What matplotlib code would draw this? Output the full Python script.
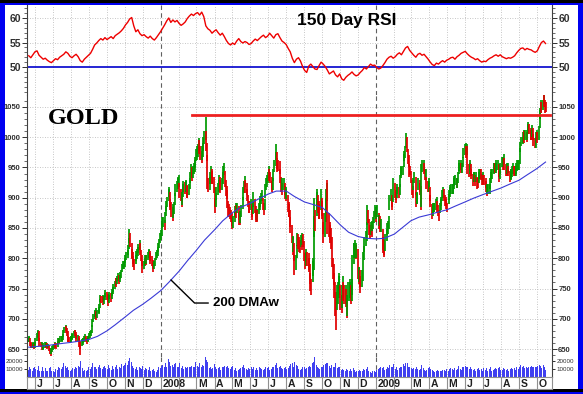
import numpy as np
import pandas as pd
import matplotlib
matplotlib.use("Agg")
import matplotlib.pyplot as plt
import matplotlib.dates as mdates
from matplotlib.patches import Rectangle
from matplotlib.ticker import MultipleLocator, FixedLocator

plt.rcParams['font.family'] = ['Liberation Sans', 'DejaVu Sans']

# ---------------- data ----------------
start_day = '2007-05-21'   # first bar, one row below = one week Mon..Fri

# daily lows / highs (USD/oz) - 2007 part
low_07 = [
    661, 662, 655, 652, 651,  651, 652, 650, 652, 656,  664, 668, 670, 663, 655,
    653, 654, 648, 649, 650,  652, 651, 653, 650, 651,  647, 641, 639, 642, 645,
    648, 650, 653, 651, 650,  654, 659, 658, 660, 662,  662, 663, 665, 670, 676,
    680, 677, 672, 662, 661,  660, 661, 662, 665, 667,  669, 672, 671, 667, 662,
    663, 662, 654, 650, 640,  655, 657, 660, 661, 664,  661, 659, 662, 663, 667,
    669, 672, 677, 686, 694,  700, 703, 705, 698, 702,  708, 710, 718, 727, 726,
    728, 723, 725, 731, 736,  731, 728, 721, 726, 732,  728, 733, 738, 741, 745,
    750, 755, 752, 757, 762,  757, 760, 765, 768, 777,  782, 783, 786, 792, 797,
    800, 806, 815, 825, 818,  800, 799, 791, 786, 781,  790, 796, 799, 803, 809,
    813, 806, 796, 788, 776,  782, 787, 791, 789, 791,  797, 800, 802, 796, 791,
    787, 782, 777, 782, 787,  797, 800, 804, 811, 817]
high_07 = [
    670, 671, 668, 662, 660,  660, 662, 659, 661, 669,  676, 680, 682, 679, 668,
    662, 662, 658, 657, 660,  661, 660, 662, 660, 659,  656, 651, 648, 651, 655,
    656, 659, 661, 660, 660,  664, 668, 667, 669, 671,  672, 672, 675, 682, 686,
    690, 688, 684, 679, 672,  670, 671, 671, 675, 677,  679, 682, 681, 678, 674,
    673, 672, 668, 664, 662,  666, 668, 669, 671, 674,  671, 669, 672, 672, 677,
    679, 682, 689, 699, 708,  712, 715, 718, 713, 715,  719, 725, 732, 740, 738,
    740, 737, 737, 742, 748,  745, 741, 736, 739, 745,  742, 745, 750, 753, 758,
    763, 768, 767, 770, 776,  772, 773, 777, 780, 790,  795, 796, 801, 806, 811,
    814, 822, 833, 848, 842,  825, 816, 810, 803, 798,  806, 812, 815, 818, 824,
    830, 825, 814, 806, 795,  796, 801, 806, 805, 806,  811, 814, 816, 812, 808,
    803, 797, 792, 796, 801,  810, 814, 818, 826, 832]

# 2008 part (starts Mon 31 Dec 2007)
low_08 = [
    826, 830, 836, 850, 851,  846, 858, 870, 878, 884,  895, 901, 884, 879, 868,
    862, 866, 873, 888, 903,  910, 914, 917, 918, 900,  895, 884, 888, 902, 909,
    907, 909, 910, 899, 899,  904, 914, 924, 933, 927,  933, 939, 943, 949, 960,
    963, 968, 978, 973, 962,  958, 962, 968, 978, 988,  995, 978, 960, 915, 910,
    912, 922, 932, 922, 923,  908, 885, 874, 885, 897,  904, 910, 918, 913, 908,
    913, 922, 932, 938, 918,  903, 898, 883, 868, 868,  865, 860, 853, 848, 850,
    860, 869, 874, 866, 874,  864, 855, 855, 859, 869,  882, 897, 908, 918, 908,
    904, 894, 884, 874, 874,  879, 869, 864, 873, 885,  874, 864, 860, 862, 860,
    873, 879, 884, 889, 894,  879, 872, 879, 900, 913,  918, 924, 933, 928, 925,
    913, 909, 913, 928, 943,  952, 963, 948, 943, 944,  939, 924, 909, 904, 912,
    913, 904, 898, 894, 898,  877, 868, 868, 852, 842,  826, 806, 811, 796, 772,
    780, 800, 820, 815, 810,  808, 818, 813, 822, 818,  795, 783, 787, 793, 788,
    780, 777, 757, 746, 740,  760, 770, 780, 835, 845,  870, 880, 875, 865, 865,
    880, 870, 865, 840, 825,  835, 860, 875, 895, 840,  835, 830, 825, 815, 785,
    765, 755, 735, 705, 681,  715, 725, 735, 740, 715,  710, 718, 735, 730, 725,
    725, 720, 701, 705, 730,  730, 735, 725, 730, 740,  790, 800, 800, 798, 800,
    765, 758, 760, 752, 742,  752, 762, 785, 797, 810,  820, 828, 855, 858, 838,
    833, 838, 835, 845, 848]
high_08 = [
    842, 846, 858, 868, 869,  864, 877, 887, 895, 902,  914, 918, 910, 898, 893,
    885, 889, 893, 908, 922,  927, 932, 935, 937, 925,  915, 907, 910, 923, 928,
    926, 928, 929, 921, 919,  923, 933, 943, 955, 950,  952, 957, 963, 968, 980,
    985, 988, 998, 995, 986,  978, 985, 990, 1000, 1010,  1033, 1010, 990, 970, 932,
    935, 943, 952, 947, 944,  935, 918, 900, 908, 918,  924, 930, 938, 935, 930,
    932, 942, 952, 958, 945,  930, 920, 912, 895, 890,  885, 880, 875, 868, 870,
    878, 887, 892, 888, 892,  886, 876, 874, 878, 888,  902, 918, 928, 936, 930,
    924, 915, 905, 895, 894,  898, 890, 884, 893, 910,  898, 886, 879, 881, 879,
    892, 898, 903, 908, 912,  900, 892, 898, 922, 932,  938, 942, 952, 948, 943,
    935, 928, 933, 948, 962,  975, 988, 975, 965, 963,  960, 948, 934, 925, 933,
    933, 925, 920, 914, 918,  905, 893, 890, 880, 868,  855, 835, 836, 825, 805,
    805, 822, 842, 840, 835,  830, 838, 835, 842, 840,  828, 808, 810, 815, 810,
    808, 800, 790, 775, 765,  795, 800, 870, 900, 880,  915, 910, 905, 895, 890,
    915, 900, 895, 875, 860,  875, 900, 915, 925, 930,  875, 860, 855, 850, 835,
    800, 790, 775, 760, 745,  755, 760, 770, 775, 755,  740, 755, 770, 760, 755,
    755, 750, 735, 740, 760,  760, 765, 755, 765, 805,  825, 825, 830, 822, 825,
    815, 785, 785, 780, 770,  780, 785, 810, 820, 835,  845, 860, 888, 880, 865,
    855, 860, 855, 862, 868]

# 2009 part (starts Mon 29 Dec 2008)
low_09 = [
    858, 868, 860, 865, 868,  848, 853, 848, 843, 843,  813, 808, 805, 802, 812,
    828, 838, 840, 848, 880,  895, 884, 880, 893, 912,  900, 896, 892, 900, 906,
    900, 905, 918, 933, 936,  937, 950, 960, 965, 982,  975, 955, 950, 935, 937,
    925, 905, 900, 912, 925,  905, 885, 890, 890, 913,  910, 905, 880, 885, 942,
    945, 940, 930, 930, 915,  910, 910, 915, 895, 885,  865, 870, 875, 876, 876,
    880, 885, 876, 870, 862,  875, 880, 886, 895, 900,  895, 886, 886, 881, 876,
    890, 896, 902, 906, 906,  906, 906, 915, 920, 921,  916, 916, 925, 940, 945,
    946, 941, 941, 950, 965,  970, 972, 965, 970, 940,  935, 940, 945, 936, 931,
    920, 926, 926, 920, 926,  915, 916, 925, 931, 931,  930, 921, 926, 921, 921,
    916, 910, 903, 906, 906,  906, 915, 925, 931, 931,  940, 941, 941, 941, 945,
    946, 935, 926, 931, 940,  950, 946, 950, 955, 946,  936, 936, 940, 941, 936,
    926, 930, 931, 935, 940,  936, 936, 936, 940, 945,  946, 946, 955, 975, 985,
    988, 990, 995, 990, 995,  992, 995, 1005, 1010, 1005,  995, 995, 1000, 995, 985,
    982, 982, 990, 995, 990,  995, 1015, 1030, 1040, 1040,  1045, 1055, 1050, 1040, 1042]
high_09 = [
    878, 888, 880, 884, 888,  875, 872, 870, 865, 865,  848, 835, 830, 825, 840,
    848, 858, 862, 870, 905,  915, 905, 900, 912, 932,  925, 912, 910, 918, 922,
    918, 922, 938, 950, 952,  952, 973, 978, 985, 1007,  1000, 980, 970, 955, 952,
    945, 930, 920, 932, 942,  935, 910, 908, 910, 932,  930, 925, 920, 955, 962,
    962, 958, 948, 948, 935,  928, 928, 932, 918, 905,  890, 888, 892, 892, 892,
    898, 902, 895, 888, 880,  892, 898, 902, 912, 918,  915, 905, 902, 898, 892,
    907, 912, 917, 921, 922,  922, 922, 932, 936, 937,  932, 932, 942, 957, 962,
    962, 958, 958, 967, 982,  988, 990, 985, 988, 985,  955, 957, 962, 955, 948,
    940, 942, 942, 938, 942,  935, 932, 942, 947, 947,  947, 940, 942, 938, 937,
    932, 928, 920, 922, 922,  922, 932, 942, 947, 947,  957, 958, 957, 958, 962,
    962, 955, 945, 947, 957,  967, 962, 967, 972, 965,  955, 952, 957, 957, 953,
    944, 947, 947, 952, 957,  953, 952, 952, 957, 962,  962, 962, 982, 992, 1000,
    1000, 1008, 1012, 1010, 1012,  1008, 1012, 1022, 1025, 1022,  1015, 1012, 1020, 1015, 1005,
    998, 1000, 1008, 1012, 1008,  1018, 1045, 1048, 1062, 1058,  1062, 1072, 1070, 1062, 1058]

# daily volume (thousands of contracts)
vol_07 = [
    9, 12, 8, 10, 7,  8, 11, 9, 13, 10,  12, 9, 14, 11, 8,  10, 7, 9, 12, 8,
    9, 11, 8, 10, 7,  11, 9, 13, 10, 8,  7, 9, 6, 10, 8,  9, 12, 10, 11, 14,
    10, 13, 12, 17, 21,  14, 11, 16, 12, 9,  10, 8, 12, 9, 11,  12, 10, 9, 13, 11,
    10, 14, 12, 18, 20,  9, 11, 8, 10, 9,  8, 10, 9, 11, 12,  10, 13, 12, 16, 18,
    13, 11, 12, 10, 14,  12, 15, 13, 11, 16,  10, 12, 9, 14, 11,  13, 10, 12, 15, 11,
    12, 9, 11, 14, 10,  13, 11, 15, 12, 10,  12, 14, 11, 13, 16,  14, 12, 15, 17, 13,
    15, 18, 20, 24, 17,  19, 14, 13, 11, 12,  10, 12, 11, 9, 8,  13, 11, 12, 10, 14,
    10, 9, 11, 8, 10,  11, 9, 10, 12, 8,  9, 8, 10, 11, 7,  6, 8, 9, 10, 12]
vol_08 = [
    11, 9, 14, 15, 13,  12, 14, 17, 13, 15,  23, 19, 16, 14, 12,  15, 12, 13, 16, 18,
    14, 12, 15, 13, 17,  13, 11, 12, 14, 10,  12, 9, 11, 10, 13,  11, 13, 12, 15, 14,
    12, 14, 13, 15, 19,  14, 16, 13, 17, 12,  13, 12, 15, 14, 18,  25, 21, 17, 19, 12,
    11, 13, 12, 10, 11,  14, 16, 12, 11, 10,  9, 11, 10, 12, 9,  10, 12, 13, 11, 14,
    12, 10, 14, 15, 11,  10, 13, 12, 14, 9,  9, 11, 10, 8, 10,  9, 10, 8, 11, 12,
    13, 15, 12, 11, 9,  10, 9, 12, 11, 10,  11, 12, 10, 9, 13,  10, 9, 11, 8, 9,
    10, 12, 11, 9, 10,  9, 8, 10, 14, 12,  11, 13, 12, 9, 7,  10, 12, 11, 13, 14,
    15, 18, 13, 11, 10,  12, 14, 13, 11, 10,  9, 11, 10, 12, 10,  13, 11, 12, 14, 16,
    15, 17, 12, 14, 19,  13, 15, 14, 11, 10,  9, 11, 10, 12, 9,  13, 12, 10, 11, 10,
    12, 11, 14, 13, 15,  17, 19, 23, 27, 18,  15, 13, 12, 11, 10,  14, 12, 11, 13, 15,
    13, 16, 14, 17, 18,  14, 12, 11, 13, 15,  13, 14, 12, 16, 18,  11, 12, 13, 12, 10,
    9, 11, 10, 8, 9,  8, 9, 10, 9, 11,  8, 10, 9, 8, 12,  11, 9, 10, 6, 7,
    9, 7, 8, 9, 8,  7, 8, 9, 10, 9,  8, 10, 13, 9, 7,  6, 7, 5, 6, 7]
vol_09 = [
    7, 8, 6, 7, 9,  10, 11, 9, 12, 10,  11, 13, 10, 9, 12,  10, 12, 13, 11, 15,
    14, 12, 11, 13, 16,  11, 10, 12, 11, 9,  10, 11, 13, 14, 12,  13, 16, 14, 15, 18,
    17, 15, 12, 13, 10,  11, 12, 10, 9, 11,  10, 12, 9, 10, 11,  9, 10, 8, 15, 13,
    11, 9, 10, 8, 9,  10, 11, 9, 12, 10,  8, 9, 7, 8, 6,  7, 8, 9, 7, 8,
    8, 9, 7, 10, 9,  9, 8, 7, 10, 9,  8, 9, 10, 9, 11,  10, 9, 8, 11, 10,
    9, 10, 12, 14, 11,  10, 9, 11, 12, 13,  16, 14, 12, 11, 13,  11, 10, 9, 12, 10,
    9, 8, 10, 9, 8,  10, 9, 11, 8, 9,  10, 9, 8, 11, 7,  9, 10, 11, 8, 9,
    10, 9, 12, 8, 11,  9, 10, 14, 11, 10,  9, 11, 10, 12, 9,  10, 9, 8, 11, 10,
    9, 8, 10, 9, 8,  10, 9, 11, 12, 10,  11, 10, 9, 12, 11,  10, 11, 13, 15, 14,
    12, 14, 13, 11, 15,  13, 11, 15, 12, 10,  12, 14, 11, 13, 12,  11, 13, 10, 12, 14,
    13, 15, 12, 14, 11,  13, 15, 12, 14, 9]

# 150 day RSI, two readings per week over the same span
rsi = [
    52.3, 51.9, 52.5, 53.1, 53.3, 52.4, 52.0, 51.6,
    51.8, 51.4, 51.1, 50.9, 51.3, 51.7, 51.5, 52.0,
    52.3, 52.6, 53.1, 52.8, 52.2, 51.9, 52.3, 52.6,
    52.1, 51.3, 51.0, 51.6, 52.0, 52.4, 52.8, 53.6,
    54.5, 54.9, 55.4, 55.8, 55.5, 56.0, 55.6, 55.9,
    56.2, 55.8, 56.4, 56.7, 57.0, 57.4, 57.9, 58.6,
    59.1, 59.8, 60.1, 58.4, 57.2, 57.6, 56.8, 56.4,
    56.6, 56.2, 55.9, 56.3, 55.8, 55.5, 56.0, 56.6,
    57.2, 57.9, 58.6, 59.4, 60.0, 59.1, 59.6, 59.2,
    59.5, 58.9, 58.5, 58.8, 59.2, 59.9, 60.4, 60.8,
    60.5, 60.9, 61.1, 60.6, 61.2, 60.3, 58.4, 57.8,
    57.5, 56.9, 57.3, 57.6, 57.0, 56.5, 56.9, 56.2,
    55.4, 54.8, 54.5, 54.9, 54.6, 55.3, 55.8, 55.2,
    54.9, 55.2, 55.0, 54.6, 54.8, 55.3, 55.7, 55.4,
    55.8, 56.2, 56.5, 56.0, 56.3, 56.9, 56.4, 55.9,
    56.6, 56.8, 56.0, 55.3, 55.0, 54.6, 53.8, 53.1,
    51.8, 50.9, 51.6, 51.9, 51.2, 50.1, 49.3, 48.9,
    50.2, 50.6, 50.1, 49.6, 49.5, 50.3, 51.0, 50.6,
    50.1, 49.4, 48.6, 48.9, 49.2, 48.4, 48.0, 48.6,
    47.6, 47.3, 47.9, 48.3, 48.6, 49.0, 48.5, 48.2,
    48.4, 48.9, 49.3, 49.9, 49.6, 50.1, 50.6, 50.3,
    50.4, 49.9, 49.6, 49.8, 50.3, 50.9, 51.6, 52.0,
    52.2, 51.8, 52.1, 52.6, 52.9, 52.5, 53.2, 53.9,
    54.2, 53.4, 52.9, 52.4, 52.0, 52.6, 52.8, 52.4,
    52.6, 52.1, 51.6, 51.0, 50.5, 50.3, 50.8, 50.6,
    51.0, 51.3, 51.0, 51.4, 51.6, 51.9, 52.0, 51.6,
    52.1, 52.4, 52.8, 53.0, 53.2, 52.7, 52.3, 52.0,
    51.8, 51.5, 51.7, 51.3, 51.0, 51.2, 51.1, 51.5,
    51.8, 52.0, 52.3, 52.5, 52.2, 52.5, 52.1, 51.9,
    51.7, 51.9, 51.8, 52.0, 52.3, 52.9, 53.4, 53.8,
    53.9, 53.5, 53.8, 53.6, 53.5, 53.2, 53.0, 53.3,
    54.2, 55.0, 55.3, 54.8]

# 200 day moving average (read twice a month)
dma_dates = ['2007-05-21', '2007-06-01', '2007-06-15', '2007-07-01', '2007-07-15',
             '2007-08-01', '2007-08-15', '2007-09-01', '2007-09-15', '2007-10-01',
             '2007-10-15', '2007-11-01', '2007-11-15', '2007-12-01', '2007-12-15',
             '2008-01-01', '2008-01-15', '2008-02-01', '2008-02-15', '2008-03-01',
             '2008-03-15', '2008-04-01', '2008-04-15', '2008-05-01', '2008-05-15',
             '2008-06-01', '2008-06-15', '2008-07-01', '2008-07-15', '2008-08-01',
             '2008-08-15', '2008-09-01', '2008-09-15', '2008-10-01', '2008-10-15',
             '2008-11-01', '2008-11-15', '2008-12-01', '2008-12-15', '2009-01-01',
             '2009-01-15', '2009-02-01', '2009-02-15', '2009-03-01', '2009-03-15',
             '2009-04-01', '2009-04-15', '2009-05-01', '2009-05-15', '2009-06-01',
             '2009-06-15', '2009-07-01', '2009-07-15', '2009-08-01', '2009-08-15',
             '2009-09-01', '2009-09-15', '2009-10-01', '2009-10-16']
dma = [653, 654, 655, 657, 659, 661, 663, 666, 671, 680,
       690, 703, 714, 724, 734, 747, 761, 779, 796, 813,
       830, 847, 862, 875, 884, 891, 898, 906, 911, 911,
       902, 893, 889, 884, 872, 855, 843, 836, 833, 832,
       833, 840, 851, 862, 868, 872, 876, 880, 886, 893,
       899, 905, 910, 916, 922, 929, 938, 948, 959]

resistance = 1036
resistance_from, resistance_to = '2008-02-22', '2009-10-24'

month_labels = ['J', 'J', 'A', 'S', 'O', 'N', 'D',
                '2008', '', 'M', 'A', 'M', 'J', 'J', 'A', 'S', 'O', 'N', 'D',
                '2009', '', 'M', 'A', 'M', 'J', 'J', 'A', 'S', 'O']

# ---------------- figure ----------------
W, H = 583, 394
fig = plt.figure(figsize=(W / 100, H / 100), dpi=100)
fig.patch.set_facecolor('#0000f0')


def box(x0, y0, x1, y1):
    # pixel box (from top left) -> figure fraction rect
    return [x0 / W, 1 - y1 / H, (x1 - x0) / W, (y1 - y0) / H]


def fx(px):
    return px / W


def fy(py):
    return 1 - py / H


fig.add_artist(Rectangle((fx(5), fy(389)), (578 - 5) / W, (389 - 5) / H,
                         transform=fig.transFigure, facecolor='white',
                         edgecolor='none', zorder=-10))
fig.add_artist(Rectangle((0, fy(3)), 1, 3 / H, transform=fig.transFigure,
                         facecolor='black', edgecolor='none', zorder=-9))
fig.add_artist(Rectangle((0, fy(392)), 1, 3 / H, transform=fig.transFigure,
                         facecolor='black', edgecolor='none', zorder=-9))

ax_r = fig.add_axes(box(27, 5, 552, 95))
ax_p = fig.add_axes(box(27, 95, 552, 357))
ax_v = fig.add_axes(box(27, 357, 552, 377))
ax_m = fig.add_axes(box(27, 377, 552, 389))

lows = np.array(low_07 + low_08 + low_09, float)
highs = np.array(high_07 + high_08 + high_09, float)
vol = np.array(vol_07 + vol_08 + vol_09, float) * 1000
n = min(len(lows), len(highs), len(vol))
lows, highs, vol = lows[:n], highs[:n], vol[:n]
dates = pd.bdate_range(start_day, periods=n)
x = mdates.date2num(dates.to_pydatetime())

xmin = mdates.datestr2num('2007-05-18')
xmax = mdates.datestr2num('2009-10-27')
months = mdates.date2num(pd.date_range('2007-06-01', '2009-10-01', freq='MS').to_pydatetime())
years = mdates.datestr2num(['2008-01-01', '2009-01-01'])

grid_kw = dict(color='#b4b4b4', lw=0.6, ls=(0, (1, 2)), zorder=0)
year_kw = dict(color='#606060', lw=0.8, ls=(0, (4, 3)), zorder=1)

for ax in (ax_r, ax_p, ax_v, ax_m):
    ax.set_xlim(xmin, xmax)
    ax.set_facecolor('white')
    ax.tick_params(axis='x', which='both', bottom=False, top=False,
                   labelbottom=False)
    for s in ax.spines.values():
        s.set_color('#404040')
        s.set_linewidth(0.8)

for ax in (ax_r, ax_p, ax_v):
    for m in months:
        if m not in years:
            ax.axvline(m, **grid_kw)
    for yv in years:
        ax.axvline(yv, **year_kw)
    ax.spines['top'].set_visible(False)
    ax.spines['bottom'].set_visible(False)
    ax.tick_params(axis='y', which='both', left=True, right=True,
                   labelleft=True, labelright=True, direction='out',
                   pad=1, colors='#303030')
    ax.tick_params(axis='y', which='major', length=3.5, width=0.7)
    ax.tick_params(axis='y', which='minor', length=2, width=0.5)

# --- RSI panel ---
rsi_x = np.linspace(x[0], x[-1], len(rsi))
ax_r.plot(rsi_x, rsi, color='#ee0000', lw=1.0, zorder=3)
ax_r.axhline(50, color='#0000cc', lw=1.2, zorder=2)
ax_r.set_ylim(44.3, 62.65)
ax_r.yaxis.set_major_locator(FixedLocator([50, 55, 60]))
ax_r.yaxis.set_minor_locator(MultipleLocator(1))
for yv in (55, 60):
    ax_r.axhline(yv, **grid_kw)
for lab in ax_r.get_yticklabels():
    lab.set_fontsize(7.5)
    lab.set_fontweight('bold')
fig.text(fx(297), fy(21), '150 Day RSI', fontsize=12.5, fontweight='bold',
         ha='left', va='center')

# --- price panel ---
mid = (lows + highs) / 2
up = np.r_[True, mid[1:] >= mid[:-1]]
cols = np.where(up, '#009a00', '#e00000')
ax_p.vlines(x, lows, highs, colors=cols, lw=1.25, zorder=3)
ax_p.plot(mdates.datestr2num(dma_dates), dma, color='#3a3ad6', lw=0.8, zorder=4)
ax_p.plot(mdates.datestr2num([resistance_from, resistance_to]),
          [resistance, resistance], color='#ee2020', lw=2.0, zorder=4)
ax_p.set_ylim(636.8, 1069.8)
ax_p.yaxis.set_major_locator(MultipleLocator(50))
ax_p.yaxis.set_minor_locator(MultipleLocator(10))
for yv in range(650, 1051, 50):
    ax_p.axhline(yv, **grid_kw)
for lab in ax_p.get_yticklabels():
    lab.set_fontsize(5.5)
    lab.set_fontweight('bold')

# 200 DMAw callout
ax_p.plot(mdates.datestr2num(['2008-01-18', '2008-02-27', '2008-03-21']),
          [764, 726, 726], color='black', lw=1.0, zorder=5)
ax_p.text(mdates.datestr2num('2008-03-29'), 726, '200 DMAw', fontsize=9.5,
          fontweight='bold', ha='left', va='center', zorder=5)
fig.text(fx(48), fy(119), 'GOLD', fontsize=17.5, fontweight='bold',
         family=['Liberation Serif', 'DejaVu Serif'], ha='left', va='center')

# --- volume panel ---
ax_v.bar(x, vol, width=1.3, color='#4040f0', edgecolor='none', zorder=3)
ax_v.set_ylim(0, 25000)
ax_v.yaxis.set_major_locator(FixedLocator([10000, 20000]))
for lab in ax_v.get_yticklabels():
    lab.set_fontsize(4.5)
ax_v.tick_params(axis='y', which='major', length=2)

# --- month label strip ---
ax_m.set_ylim(0, 1)
ax_m.set_yticks([])
for s in ax_m.spines.values():
    s.set_color('#909090')
for m, lab in zip(months, month_labels):
    ax_m.axvline(m, color='#909090', lw=0.8)
    ax_m.text(m + 2.5, 0.42, lab, fontsize=7.5, fontweight='bold',
              ha='left', va='center', color='#202020')

fig.savefig('out.png', dpi=100, facecolor=fig.get_facecolor())
